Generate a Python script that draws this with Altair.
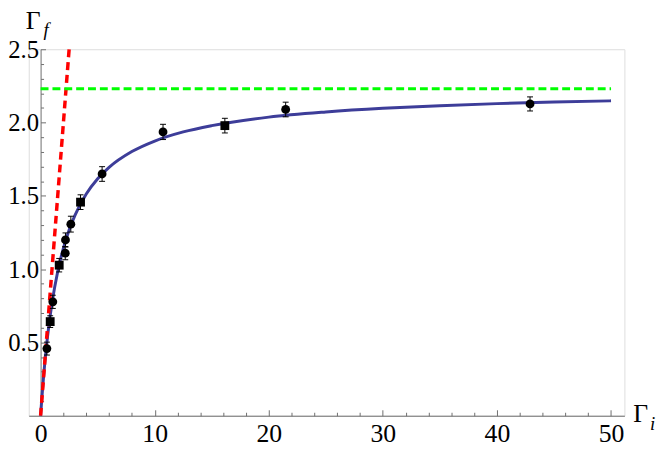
import altair as alt
import pandas as pd

# measured data points (Gamma_i, Gamma_f, error, marker)
gamma_i = [0.55, 0.84, 1.07, 1.63, 2.16, 2.18, 2.65, 3.50, 5.39, 10.73, 16.15, 21.48, 42.9]
gamma_f = [0.458, 0.642, 0.777, 1.027, 1.109, 1.199, 1.307, 1.457, 1.649, 1.936, 1.979, 2.089, 2.127]
gamma_err = [0.044, 0.040, 0.045, 0.046, 0.045, 0.048, 0.054, 0.050, 0.050, 0.052, 0.050, 0.050, 0.048]
marker = ["circle", "square", "circle", "square", "circle", "circle", "circle",
          "square", "circle", "circle", "square", "circle", "circle"]

# fitted curve
fit_x = [0, 0.1, 0.25, 0.5, 0.75, 1, 1.5, 2, 2.5, 3, 4, 5, 6, 8, 10, 12.5, 15,
         20, 25, 30, 35, 40, 45, 50]
fit_y = [0, 0.112, 0.259, 0.465, 0.631, 0.769, 0.984, 1.144, 1.267, 1.365, 1.512,
         1.616, 1.694, 1.802, 1.874, 1.936, 1.979, 2.037, 2.072, 2.097, 2.115,
         2.129, 2.140, 2.148]

# red dashed line (Gamma_f = Gamma_i) and green asymptote
red_x = [0, 2.5]
red_y = [0, 2.5]
green_x = [0, 50]
green_y = [2.23, 2.23]

x_major = [10, 20, 30, 40, 50]
x_minor = [2, 4, 6, 8, 12, 14, 16, 18, 22, 24, 26, 28, 32, 34, 36, 38, 42, 44, 46, 48]
x_labels = [0, 10, 20, 30, 40, 50]
y_major = [0.5, 1.0, 1.5, 2.0, 2.5]
y_minor = [0.1, 0.2, 0.3, 0.4, 0.6, 0.7, 0.8, 0.9, 1.1, 1.2, 1.3, 1.4,
           1.6, 1.7, 1.8, 1.9, 2.1, 2.2, 2.3, 2.4]

W, H = 603, 371
X0_OFF = 12  # pixel distance from left edge to x = 0

xscale = alt.Scale(domain=[-1.04, 51.17], nice=False, zero=False)
yscale = alt.Scale(domain=[0, 2.5], nice=False, zero=False)

FONT = "Liberation Serif"
AX = "#6e6e6e"

fit_df = pd.DataFrame({"x": fit_x, "y": fit_y})
red_df = pd.DataFrame({"x": red_x, "y": red_y})
green_df = pd.DataFrame({"x": green_x, "y": green_y})
pts_df = pd.DataFrame({"x": gamma_i, "y": gamma_f, "e": gamma_err, "m": marker})
pts_df["lo"] = pts_df["y"] - pts_df["e"]
pts_df["hi"] = pts_df["y"] + pts_df["e"]
caps_df = pd.concat([
    pd.DataFrame({"x": pts_df["x"], "y": pts_df["lo"]}),
    pd.DataFrame({"x": pts_df["x"], "y": pts_df["hi"]}),
])

x_label_axis = alt.Axis(orient="bottom", values=x_labels, domain=False, ticks=False,
                        grid=False, labelFont=FONT, labelFontSize=26, labelColor="black",
                        labelPadding=5, title=None, labelFlush=False)
y_label_axis = alt.Axis(orient="left", offset=-X0_OFF, values=y_major, format=".1f",
                        domain=False, ticks=False, grid=False, labelFont=FONT,
                        labelFontSize=25, labelColor="black", labelPadding=2, title=None,
                        labelFlush=False)
x_major_axis = alt.Axis(orient="top", offset=-H, values=x_major, labels=False,
                        domain=True, domainColor=AX, domainWidth=1, ticks=True,
                        tickColor=AX, tickSize=6, tickWidth=1, grid=False, title=None)
y_major_axis = alt.Axis(orient="right", offset=-(W - X0_OFF), values=y_major, labels=False,
                        domain=True, domainColor=AX, domainWidth=1, ticks=True,
                        tickColor=AX, tickSize=5, tickWidth=1, grid=False, title=None)
x_minor_axis = alt.Axis(orient="top", offset=-H, values=x_minor, labels=False,
                        domain=False, ticks=True, tickColor=AX, tickSize=3.5,
                        tickWidth=1, grid=False, title=None)
y_minor_axis = alt.Axis(orient="right", offset=-(W - X0_OFF), values=y_minor, labels=False,
                        domain=False, ticks=True, tickColor=AX, tickSize=3,
                        tickWidth=1, grid=False, title=None)

curve = alt.Chart(fit_df).mark_line(color="#3d3d99", strokeWidth=3, interpolate="monotone").encode(
    x=alt.X("x:Q", scale=xscale, axis=x_label_axis),
    y=alt.Y("y:Q", scale=yscale, axis=y_label_axis),
)
red = alt.Chart(red_df).mark_line(color="#ff0000", strokeWidth=3.5, strokeDash=[8, 5]).encode(
    x=alt.X("x:Q", scale=xscale, axis=x_major_axis),
    y=alt.Y("y:Q", scale=yscale, axis=y_major_axis),
)
green = alt.Chart(green_df).mark_line(color="#00ff00", strokeWidth=3, strokeDash=[8, 4]).encode(
    x=alt.X("x:Q", scale=xscale, axis=x_minor_axis),
    y=alt.Y("y:Q", scale=yscale, axis=y_minor_axis),
)
bars = alt.Chart(pts_df).mark_rule(color="#000000", strokeWidth=1).encode(
    x=alt.X("x:Q", scale=xscale, axis=None),
    y=alt.Y("lo:Q", scale=yscale, axis=None),
    y2="hi:Q",
)
caps = alt.Chart(caps_df).mark_tick(orient="horizontal", color="#000000", size=6, thickness=1,
                                    opacity=1).encode(
    x=alt.X("x:Q", scale=xscale, axis=None),
    y=alt.Y("y:Q", scale=yscale, axis=None),
)
points = alt.Chart(pts_df).mark_point(filled=True, opacity=1, color="black", size=80).encode(
    x=alt.X("x:Q", scale=xscale, axis=None),
    y=alt.Y("y:Q", scale=yscale, axis=None),
    shape=alt.Shape("m:N", scale=alt.Scale(domain=["circle", "square"], range=["circle", "square"]),
                    legend=None),
)

yt1 = alt.Chart(pd.DataFrame({"t": ["\u0393"]})).mark_text(
    font=FONT, fontSize=26, align="left", baseline="alphabetic", color="black"
).encode(x=alt.value(-3), y=alt.value(-20), text="t:N")
yt2 = alt.Chart(pd.DataFrame({"t": ["f"]})).mark_text(
    font=FONT, fontSize=19, fontStyle="italic", align="left", baseline="alphabetic", color="black"
).encode(x=alt.value(15), y=alt.value(-13), text="t:N")
xt1 = alt.Chart(pd.DataFrame({"t": ["\u0393"]})).mark_text(
    font=FONT, fontSize=26, align="left", baseline="alphabetic", color="black"
).encode(x=alt.value(612), y=alt.value(377), text="t:N")
xt2 = alt.Chart(pd.DataFrame({"t": ["i"]})).mark_text(
    font=FONT, fontSize=19, fontStyle="italic", align="left", baseline="alphabetic", color="black"
).encode(x=alt.value(629), y=alt.value(385), text="t:N")

chart = alt.layer(curve, red, green, bars, caps, points, yt1, yt2, xt1, xt2).resolve_axis(
    x="independent", y="independent"
).properties(
    width=W, height=H,
    autosize=alt.AutoSizeParams(type="none"),
    padding={"left": 21, "top": 39, "right": 32, "bottom": 37},
).configure_view(stroke=None).configure(background="white")

chart.save("out.html", embed_options={"renderer": "svg", "actions": False})
